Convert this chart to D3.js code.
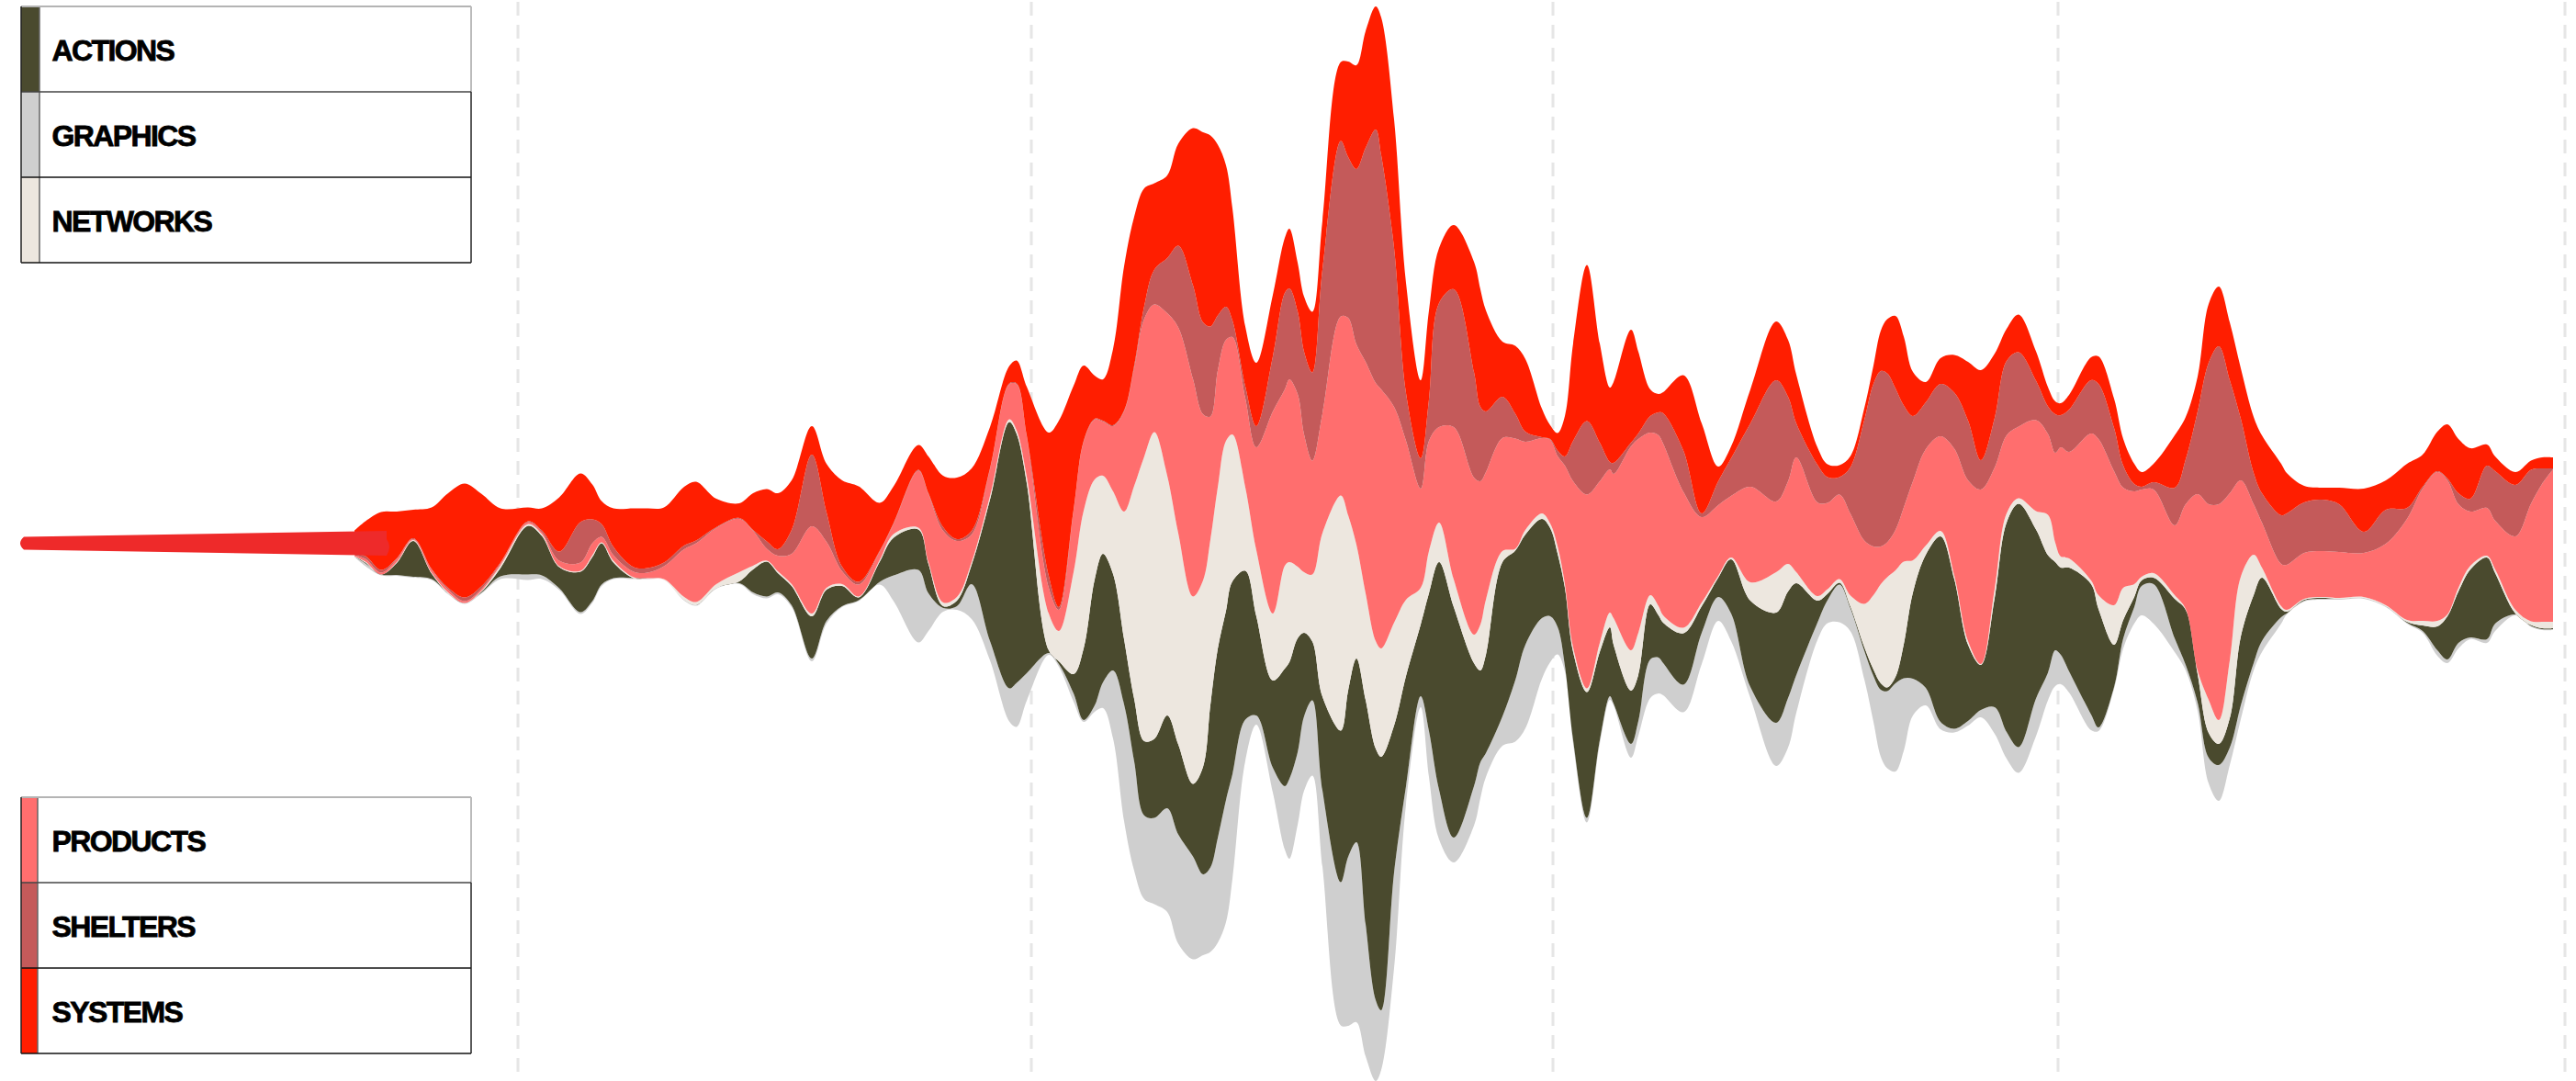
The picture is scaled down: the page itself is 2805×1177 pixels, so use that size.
<!DOCTYPE html>
<html><head><meta charset="utf-8">
<script src="https://cdnjs.cloudflare.com/ajax/libs/d3/7.8.5/d3.min.js"></script>
<style>html,body{margin:0;padding:0;background:#fff;overflow:hidden}svg{display:block}</style>
</head><body><svg id="c" width="2805" height="1177"></svg>
<script>
const categories=["graphics","actions","networks","products","shelters","systems"];
const gridTicks=[564,1123,1691,2241,2793];
const samples=[386,398,415,432,450,470,488,506,524,545,575,590,609,632,645,655,668,690,705,723,745,758,780,805,820,835,847,862,884,900,917,935,958,973,1000,1011,1027,1042,1058,1078,1099,1107,1118,1142,1153,1169,1180,1192,
1201,1212,1224,1235,1246,1257,1271,1283,1299,1310,1318,1326,1335,1342,1356,1368,1386,
1399,1404,1413,1420,1429,1440,1460,1468,1477,1487,1498,1504,1518,1531,1547,1556,1567,1583,1605,1612,1618,1636,1650,1661,1679,1688,1696,1704,1713,1728,1742,1753,1757,1776,1784,1797,1806,1811,1833,1853,1871,1885,1906,1934,1947,1956,1979,
1990,2003,2015,2030,2040,2048,2055,2064,2073,2083,2097,2113,2128,2143,2157,2172,2185,2198,2217,2230,2238,
2244,2253,2277,2285,2302,2312,2324,2332,2345,2368,2380,2393,2405,2416,2428,2440,2454,2463,2484,2490,2509,2528,2547,2574,2598,2621,2638,2654,2665,2677,2690,2708,2717,2739,2756,2768,2780];
const systems=[26,38,63,51,31,67,103,124,101,59,15,24,59,53,38,25,42,64,65,60,64,64,31,16,40,57,61,54,31,53,94,104,52,40,27,40,56,67,68,45,19,25,53,156,203,135,82,47,
45,83,157,162,128,94,90,111,171,207,208,186,154,122,65,69,67,
60,65,53,60,66,53,86,104,113,127,134,150,140,120,85,97,60,70,120,128,110,60,74,79,31,15,19,44,106,170,108,81,88,123,89,29,20,23,82,98,16,13,37,64,62,53,19,
14,13,12,13,20,44,59,79,75,48,22,28,41,64,98,70,35,41,32,21,14,
13,16,25,30,32,29,22,16,20,57,46,38,64,65,63,55,61,63,56,44,18,13,18,47,32,48,35,43,59,59,55,23,16,14,10,12,12];
const shelters=[1,3,3,1,1,1,2,4,3,1,1,2,10,44,26,14,9,5,5,4,4,3,1,1,1,8,7,26,78,32,5,3,1,1,1,1,4,2,4,1,1,1,1,13,3,1,1,1,
1,1,1,3,14,38,60,89,102,100,98,60,36,18,13,23,60,
105,99,90,90,96,157,191,175,191,233,276,255,173,52,33,45,135,150,115,81,66,45,27,11,1,1,6,10,44,80,42,8,12,4,6,18,25,33,45,4,26,41,69,132,92,37,41,
28,19,51,131,177,191,184,154,111,71,51,57,61,65,32,54,81,81,43,30,42,
35,46,58,60,47,24,8,3,8,41,49,90,154,172,123,67,34,32,53,56,55,56,52,23,37,12,2,1,2,12,14,46,54,56,37,17,1];
const products=[1,3,2,3,1,3,3,2,2,2,2,2,6,9,13,6,6,6,6,14,52,64,61,58,38,13,17,33,95,50,14,13,9,11,62,74,78,61,30,29,38,50,44,28,23,67,75,65,
59,71,109,128,150,139,177,224,237,181,134,127,110,106,97,112,220,
192,199,188,150,124,130,195,215,218,252,281,282,235,173,108,120,104,166,171,156,139,123,120,96,82,91,98,129,181,211,176,156,157,222,211,177,186,187,148,93,77,67,104,77,90,125,102,
94,92,89,69,53,41,38,44,59,86,105,103,138,175,190,132,85,78,99,88,98,
119,116,160,170,146,109,101,95,91,76,114,192,213,235,182,105,55,49,46,49,50,50,50,48,67,110,144,162,146,91,59,52,53,80,128,150,166];
const networks=[0,1,0,1,1,1,1,0,1,3,2,2,1,1,2,1,2,1,0,1,3,3,4,10,4,1,2,2,3,2,2,1,2,4,2,2,4,4,3,4,3,4,7,40,33,111,150,109,
85,90,139,232,310,334,261,230,204,203,180,176,185,160,91,72,73,
112,109,78,66,73,178,256,191,124,116,117,118,112,83,40,46,43,30,31,50,60,12,2,5,6,5,8,4,5,4,10,16,29,44,46,10,10,8,6,4,2,2,20,44,30,12,5,
5,4,12,47,81,108,120,116,90,35,10,6,4,4,1,10,10,6,20,44,21,
12,10,4,15,43,35,14,4,5,4,1,4,36,26,63,65,44,11,3,2,1,1,1,1,1,2,5,6,2,4,4,2,4,4,4,7,7];
const actions=[0,1,0,13,39,6,0,0,1,9,53,43,23,44,48,45,17,0,0,0,0,0,0,2,25,38,21,21,46,34,22,3,22,41,44,32,2,6,21,154,290,271,207,3,3,21,78,137,
140,105,71,68,81,86,101,98,79,117,177,206,206,210,162,108,95,
128,127,124,91,64,102,165,181,200,244,274,276,160,120,78,150,248,251,134,100,107,168,141,120,108,96,80,85,96,137,96,75,64,58,50,60,46,44,56,29,21,59,94,120,116,100,24,
7,2,2,4,7,7,4,7,37,94,145,202,163,83,49,119,228,265,184,128,96,
95,113,142,129,46,20,11,6,7,43,60,31,27,23,32,75,74,69,9,2,1,1,0,0,0,1,6,26,47,56,74,89,55,1,1,1,1];
const graphics=[1,3,1,1,1,1,1,1,1,3,6,4,2,2,2,2,1,1,1,0,1,1,1,1,2,2,2,2,3,3,1,1,3,28,79,41,4,4,38,21,36,48,30,2,3,9,2,7,
28,74,127,119,91,94,113,119,112,88,92,114,133,114,45,10,27,
69,87,79,81,82,83,156,184,196,144,88,65,104,20,12,50,54,27,43,39,26,32,67,91,66,50,30,6,4,5,4,4,2,15,16,42,39,35,30,34,26,30,12,47,54,41,19,
25,41,25,31,50,73,84,96,79,40,19,8,4,5,8,29,29,28,41,30,39,
32,23,17,4,2,11,18,32,43,15,6,9,28,39,19,15,8,12,7,1,1,1,1,1,1,1,2,6,4,6,2,4,8,1,1,1,1];
const colors={actions:"#4a4a2e",graphics:"#cfcfcf",networks:"#ede7df",products:"#ff6e6e",shelters:"#c45a5a",systems:"#ff1e00"};
const legendTop=["actions","graphics","networks"], legendBottom=["products","shelters","systems"];

const W=2805,H=1177;
const seriesMap={graphics,actions,networks,products,shelters,systems};
for(const k of categories) if(seriesMap[k].length!==samples.length) throw new Error(k+" length "+seriesMap[k].length+" vs "+samples.length);
const rows=samples.map((t,i)=>{const r={t};for(const k of categories)r[k]=seriesMap[k][i];return r;});
const svg=d3.select("#c");
const x=d3.scaleLinear().domain([0,W]).range([0,W]);
const y=d3.scaleLinear().domain([-585,592]).range([H,0]);

// grid
svg.append("g").selectAll("line").data(gridTicks).join("line")
 .attr("x1",d=>x(d)).attr("x2",d=>x(d)).attr("y1",2).attr("y2",H)
 .attr("stroke","#e6e6e6").attr("stroke-width",3).attr("stroke-dasharray","15 10");

// stream
const stacked=d3.stack().keys(categories).order(d3.stackOrderNone).offset(d3.stackOffsetSilhouette)(rows);
const area=d3.area().x(d=>x(d.data.t)).y0(d=>y(d[0])).y1(d=>y(d[1])).curve(d3.curveCatmullRom.alpha(0.5));
svg.append("g").selectAll("path").data(stacked).join("path")
 .attr("d",area).attr("fill",d=>colors[d.key]);

// handle wedge at the left
const p=d3.path();
p.moveTo(26,584.5);p.lineTo(421,578);p.lineTo(421,587);p.quadraticCurveTo(427,595,421,605);
p.lineTo(26,598.5);p.quadraticCurveTo(18,591.5,26,584.5);p.closePath();
svg.append("path").attr("d",p.toString()).attr("fill","#ee2a2a");

// legends
function legend(names,top,swW){
 const rowH=93,left=23,w=490;
 const g=svg.append("g");
 names.forEach((n,i)=>{
  const yy=top+i*rowH;
  g.append("rect").attr("x",left).attr("y",yy).attr("width",swW).attr("height",rowH).attr("fill",colors[n]);
  g.append("text").attr("x",56.5).attr("y",yy+59).text(n.toUpperCase())
   .attr("font-family","'Liberation Sans',Arial,sans-serif").attr("font-weight","700")
   .attr("font-size",32).attr("letter-spacing",-1.6).attr("fill","#000")
   .attr("stroke","#000").attr("stroke-width",0.8);
  g.append("line").attr("x1",left+swW).attr("x2",left+swW).attr("y1",yy).attr("y2",yy+rowH).attr("stroke","#666").attr("stroke-width",1.5);
 });
 // frame
 g.append("line").attr("x1",left).attr("x2",left+w).attr("y1",top).attr("y2",top).attr("stroke","#b4b4b4").attr("stroke-width",2);
 g.append("line").attr("x1",left+w).attr("x2",left+w).attr("y1",top).attr("y2",top+rowH).attr("stroke","#bbb").attr("stroke-width",2);
 g.append("line").attr("x1",left).attr("x2",left+w).attr("y1",top+rowH).attr("y2",top+rowH).attr("stroke","#444").attr("stroke-width",1.5);
 g.append("line").attr("x1",left).attr("x2",left+w).attr("y1",top+2*rowH).attr("y2",top+2*rowH).attr("stroke","#111").attr("stroke-width",1.5);
 g.append("line").attr("x1",left).attr("x2",left+w).attr("y1",top+3*rowH).attr("y2",top+3*rowH).attr("stroke","#111").attr("stroke-width",1.5);
 g.append("line").attr("x1",left).attr("x2",left).attr("y1",top).attr("y2",top+3*rowH).attr("stroke","#222").attr("stroke-width",1.5);
 g.append("line").attr("x1",left+w).attr("x2",left+w).attr("y1",top+rowH).attr("y2",top+3*rowH).attr("stroke","#222").attr("stroke-width",1.5);
}
legend(legendTop,7,20);
legend(legendBottom,868,18);
</script></body></html>
